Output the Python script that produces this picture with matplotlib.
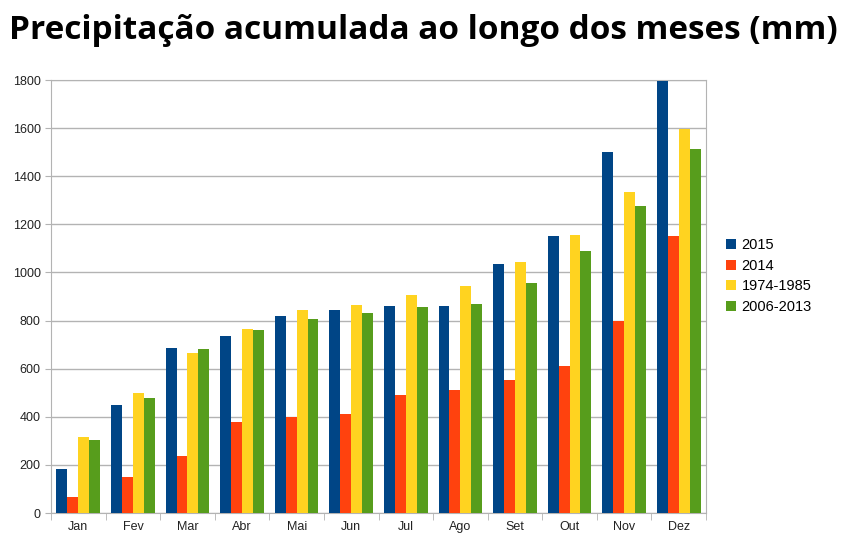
import matplotlib.pyplot as plt
import numpy as np

plt.rcParams['font.family'] = ['Liberation Sans', 'DejaVu Sans']

meses = ["Jan", "Fev", "Mar", "Abr", "Mai", "Jun", "Jul", "Ago", "Set", "Out", "Nov", "Dez"]
p2015 = [185, 447, 688, 737, 820, 845, 862, 862, 1037, 1150, 1500, 1795]
p2014 = [68, 148, 235, 377, 400, 410, 490, 510, 555, 613, 800, 1150]
p1974_1985 = [315, 497, 667, 767, 843, 865, 905, 945, 1045, 1155, 1333, 1598]
p2006_2013 = [305, 480, 683, 762, 808, 833, 858, 870, 958, 1090, 1278, 1513]

series = [("2015", p2015, "#004586"), ("2014", p2014, "#ff420e"),
          ("1974-1985", p1974_1985, "#ffd320"), ("2006-2013", p2006_2013, "#579d1c")]

fig = plt.figure(figsize=(8.46, 5.58), dpi=100)
ax = fig.add_axes([0.0603, 0.0806, 0.7742, 0.776])

x = np.arange(len(meses))
w = 0.2
for i, (nome, vals, cor) in enumerate(series):
    ax.bar(x + (i - 1.5) * w, vals, w, color=cor, label=nome, zorder=3)

ax.set_xlim(-0.5, len(meses) - 0.5)
ax.set_ylim(0, 1800)
ax.set_yticks(range(0, 1801, 200))
ax.set_xticks(x)
ax.set_xticklabels(meses)
ax.set_xticks(np.arange(-0.5, len(meses), 1), minor=True)
ax.tick_params(axis="x", which="major", length=0, labelsize=9, colors="#222222", pad=6)
ax.tick_params(axis="x", which="minor", length=5, color="#b3b3b3")
ax.tick_params(axis="y", length=4, color="#b3b3b3", labelsize=9, labelcolor="#222222")
ax.grid(axis="y", color="#b3b3b3", linewidth=1, zorder=0)
for s in ax.spines.values():
    s.set_color("#b3b3b3")

leg = ax.legend(loc="center left", bbox_to_anchor=(1.01, 0.547), frameon=False,
                fontsize=10.5, handlelength=0.7, handleheight=0.7, handletextpad=0.4,
                labelspacing=0.45)

fig.text(0.5, 0.945, "Precipitação acumulada ao longo dos meses (mm)", ha="center", va="center",
         fontsize=24, fontweight="bold", family=["Open Sans", "DejaVu Sans"])

plt.savefig("out.png")
